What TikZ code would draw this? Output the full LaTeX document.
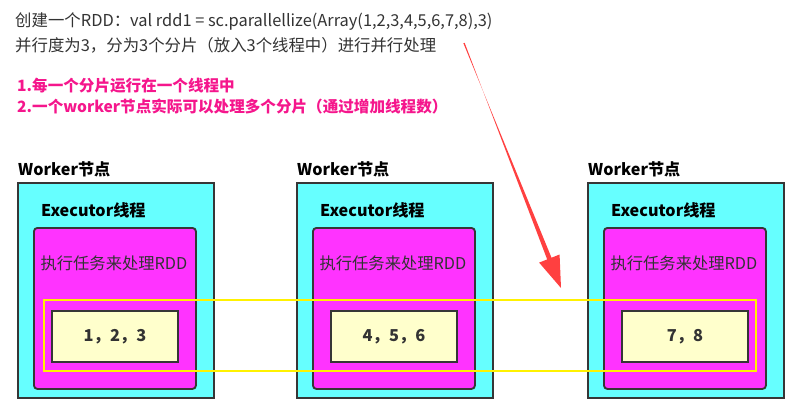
\documentclass[tikz,border=0pt]{standalone}
\usepackage{fontspec}
\setmainfont{Noto Sans CJK SC}
\usepackage{tikz}
\usetikzlibrary{arrows.meta,calc}
\definecolor{nodecyan}{HTML}{66FFFF}
\definecolor{execpink}{HTML}{FF33FF}
\definecolor{partcream}{HTML}{FFFFCC}
\definecolor{framegray}{HTML}{363636}
\definecolor{notepink}{HTML}{F5168C}
\definecolor{arrowred}{HTML}{FF4040}
\definecolor{textgray}{HTML}{333333}
\tikzset{
  workerbox/.style = {draw=framegray, fill=nodecyan, line width=1.6pt, anchor=north west,
                      minimum width=5.88cm, minimum height=6.45cm, inner sep=0pt},
  execbox/.style   = {draw=framegray, fill=execpink, line width=1.6pt, rounded corners=3pt,
                      anchor=north west, minimum width=4.86cm, minimum height=4.83cm, inner sep=0pt},
  partbox/.style   = {draw=framegray, fill=partcream, line width=1.6pt, minimum width=3.78cm,
                      minimum height=1.53cm, font=\fontsize{14}{16}\selectfont\bfseries, text=textgray},
  boxlabel/.style  = {anchor=west, inner sep=0pt, font=\fontsize{13.8}{16}\selectfont\bfseries},
  tasktext/.style  = {inner sep=0pt, text=textgray, font=\fontsize{13.9}{16}\selectfont},
  toptext/.style   = {anchor=west, inner sep=0pt, text=textgray, font=\fontsize{14}{16}\selectfont},
  notetext/.style  = {anchor=west, inner sep=0pt, text=notepink, font=\fontsize{13.3}{16}\selectfont\bfseries}
}
\begin{document}
\begin{tikzpicture}[x=0.03cm, y=-0.03cm]
  \useasboundingbox (0,0) rectangle (796,415);
  % header text
  \node[toptext] (title1) at (15,22) {创建一个RDD：val rdd1 = sc.parallellize(Array(1,2,3,4,5,6,7,8),3)};
  \node[toptext] (title2) at (15,45) {并行度为3，分为3个分片（放入3个线程中）进行并行处理};
  \node[notetext] (note1) at (17,86) {1.每一个分片运行在一个线程中};
  \node[notetext] (note2) at (17,107) {2.一个worker节点实际可以处理多个分片（通过增加线程数）};
  % worker nodes
  \foreach \x/\nm/\vals in {17/a/{1，2，3}, 296/b/{4，5，6}, 587/c/{7，8}} {
    \node[boxlabel] (wlabel\nm) at (\x+1,169) {Worker节点};
    \node[workerbox] (worker\nm) at (\x,182) {};
    \node[boxlabel] (elabel\nm) at (\x+24,210) {Executor线程};
    \node[execbox] (exec\nm) at (\x+16,227) {};
    \node[tasktext] (task\nm) at (\x+97,263) {执行任务来处理RDD};
    \node[partbox] (part\nm) at (\x+98,336.5) {\vals};
  }
  % partitions frame
  \draw[yellow, line width=2.3pt] (44,300) rectangle (756,371);
  % red arrow
  \coordinate (arrs) at (464,43);
  \coordinate (arre) at (561,288);
  \coordinate (hb) at ($(arre)!0.95cm!(arrs)$);
  \fill[arrowred] ($(arrs)!0.02cm!90:(arre)$) -- ($(hb)!0.07cm!-90:(arre)$)
     -- ($(hb)!0.33cm!-90:(arre)$) -- (arre) -- ($(hb)!0.33cm!90:(arre)$)
     -- ($(hb)!0.07cm!90:(arre)$) -- ($(arrs)!0.02cm!-90:(arre)$) -- cycle;
\end{tikzpicture}
\end{document}
